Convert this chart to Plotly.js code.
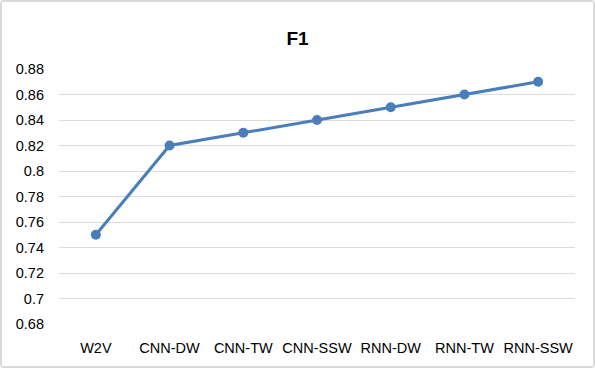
<!DOCTYPE html>
<html>
<head>
<meta charset="utf-8">
<script src="https://cdn.plot.ly/plotly-3.0.1.min.js"></script>
<style>
  html, body { margin: 0; padding: 0; background: #fff; }
  #grafico {
    width: 591px; height: 364px;
    border: 2px solid #d9d9d9; border-radius: 4px;
  }
</style>
</head>
<body>
<div id="grafico"></div>
<script>
let categorias = ['W2V', 'CNN-DW', 'CNN-TW', 'CNN-SSW', 'RNN-DW', 'RNN-TW', 'RNN-SSW'];
let valoresF1 = [0.75, 0.82, 0.83, 0.84, 0.85, 0.86, 0.87];
let ticksY = [0.68, 0.7, 0.72, 0.74, 0.76, 0.78, 0.8, 0.82, 0.84, 0.86, 0.88];

let graf =
{
    x: categorias,
    y: valoresF1,
    type: 'scatter',
    mode: 'lines+markers',
    line: { color: '#4a7ebb', width: 3 },
    marker: { color: '#4a7ebb', size: 10 },
    hoverinfo: 'none'
}
let layout =
{
    width: 591,
    height: 364,
    margin: { l: 57, r: 18, t: 67, b: 42 },
    paper_bgcolor: '#fff',
    plot_bgcolor: '#fff',
    font: { family: 'Liberation Sans, Arial, sans-serif', size: 14.5, color: '#000' },
    title: {
        text: '<b>F1</b>',
        font: { size: 19, color: '#000' },
        x: 0.5, xanchor: 'center',
        y: 0.9, yanchor: 'middle'
    },
    xaxis: {
        type: 'category',
        range: [-0.5, 6.5],
        showgrid: false,
        showline: false,
        zeroline: false,
        ticks: '',
        ticklabelstandoff: 13
    },
    yaxis: {
        range: [0.68, 0.88],
        tickvals: ticksY,
        ticktext: ticksY.map(v => String(v)),
        showgrid: true,
        gridcolor: '#dcdcdc',
        gridwidth: 1,
        zeroline: false,
        showline: false,
        ticks: '',
        ticklabelstandoff: 14
    },
    showlegend: false
}
Plotly.newPlot(document.getElementById('grafico'), [graf], layout, { displayModeBar: false, staticPlot: true });
</script>
</body>
</html>
